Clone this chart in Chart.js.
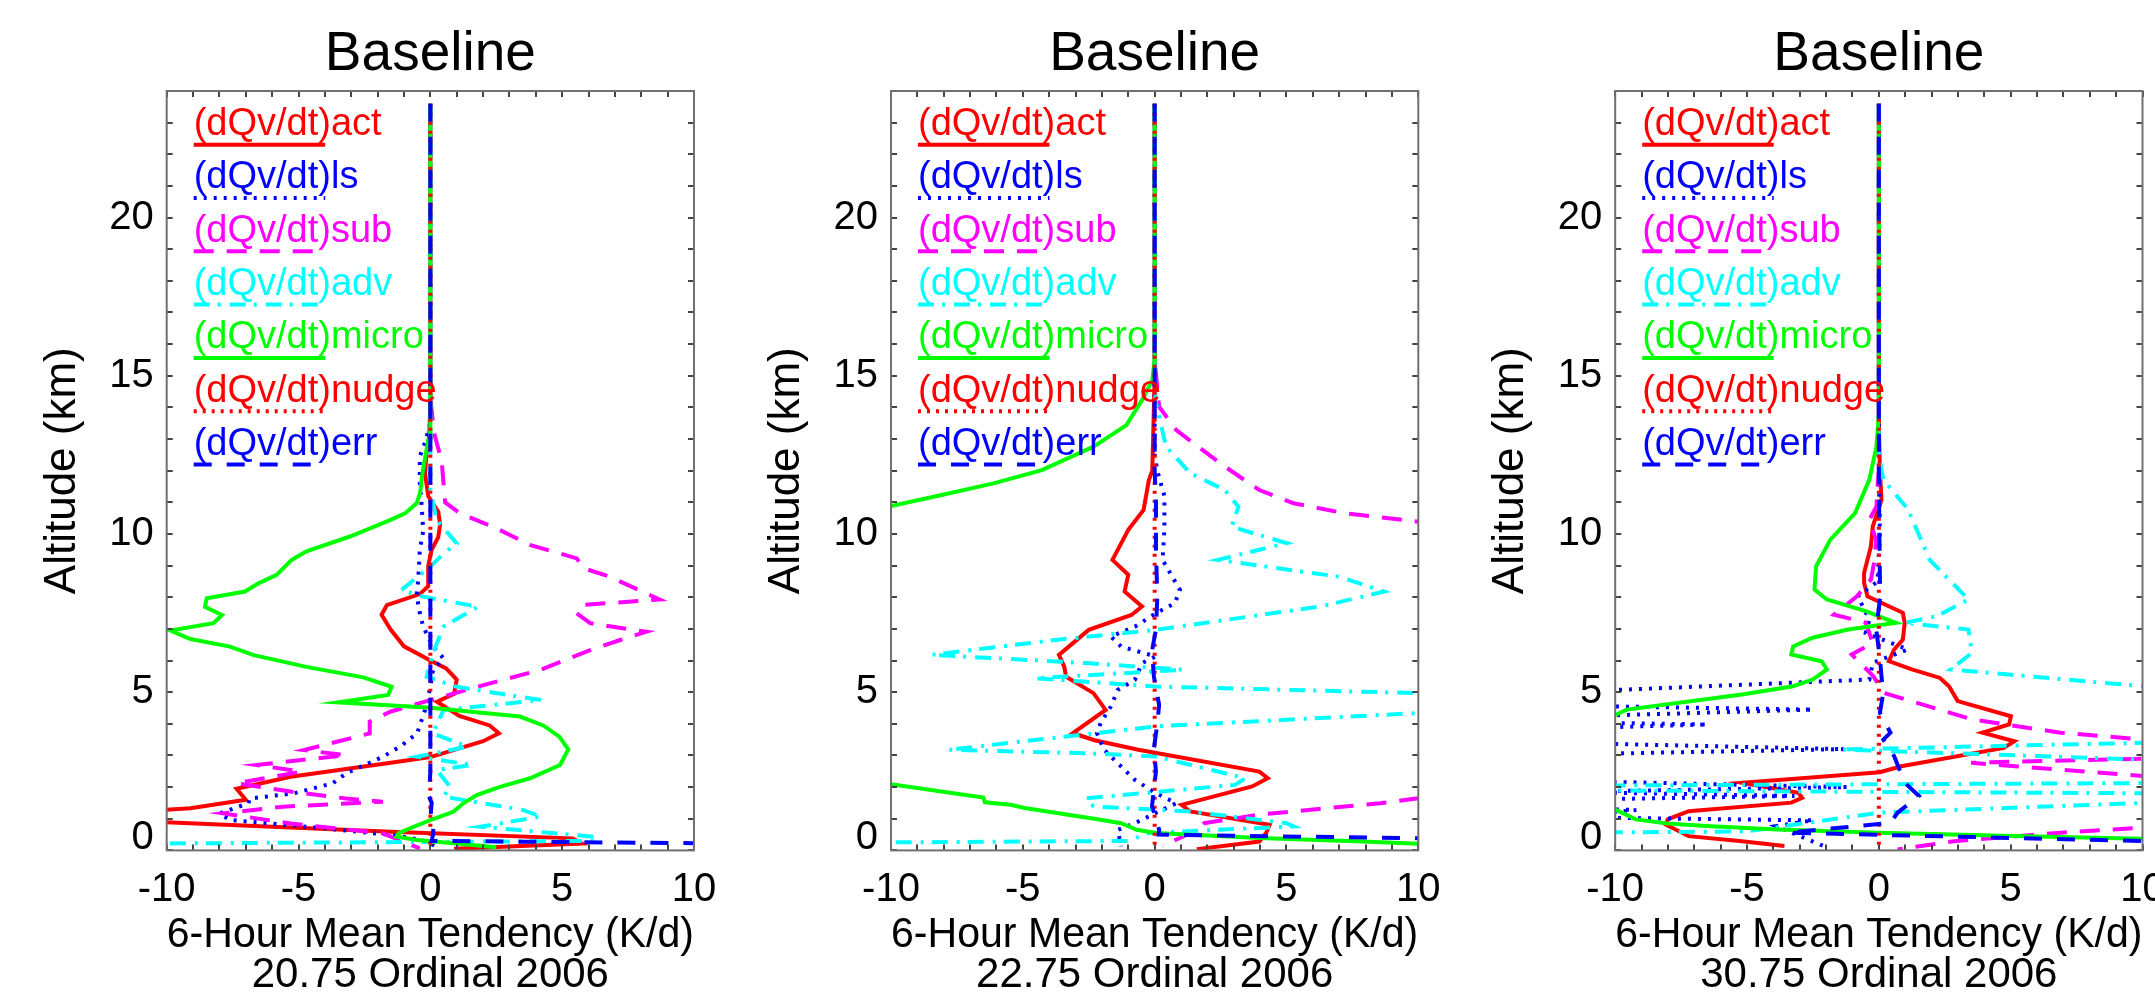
<!DOCTYPE html>
<html><head><meta charset="utf-8">
<script src="https://cdn.jsdelivr.net/npm/chart.js@4.4.1/dist/chart.umd.min.js"></script>
<style>
html,body{margin:0;padding:0;background:#fff;overflow:hidden;width:2155px;height:993px}
canvas{position:absolute;left:0;top:0}
</style></head><body>
<canvas id="c1" width="2155" height="993"></canvas>
<canvas id="c2" width="2155" height="993"></canvas>
<canvas id="c3" width="2155" height="993"></canvas>
<script>
// ---------------- DATA: [altitude km, tendency K/d] ----------------
const X_TICKS = [-10, -5, 0, 5, 10];
const Y_TICKS = [0, 5, 10, 15, 20];
const DATES = ['20.75 Ordinal 2006', '22.75 Ordinal 2006', '30.75 Ordinal 2006'];

const P1_ACT = [[23.6,0],[14,0],[13,-0.05],[12.5,-0.15],[11.9,-0.2],[11.2,-0.08],[10.7,0.3],[10.3,0.37],[9.9,0.3],[9.5,0.05],[9.0,-0.08],[8.35,-0.08],[8.1,-0.4],[7.75,-1.65],[7.45,-1.85],[6.97,-1.5],[6.45,-1.0],[6.0,0],[5.75,0.6],[5.4,1.0],[4.95,0.9],[4.7,0.25],[4.25,1.1],[3.95,2.25],[3.7,2.6],[3.45,2.0],[2.95,0],[2.77,-1.5],[2.33,-5.3],[1.95,-7.35],[1.6,-7.0],[1.33,-9.1],[1.1,-14],[0.96,-12],[0.59,-1.5],[0.38,5.4],[0.22,5.75],[0.05,0.9]];
const P1_LS = [[23.6,0],[13.5,0],[12.9,-0.2],[12.45,-0.4],[11.6,-0.4],[10.9,-0.33],[10.1,-0.27],[9.5,-0.4],[8.55,-0.46],[8.07,-0.52],[7.5,-0.4],[7.07,-0.27],[6.44,0.1],[6.07,0.5],[5.7,0.1],[5.17,0],[4.44,-0.2],[3.7,-0.5],[3.28,-1.15],[2.96,-1.8],[2.43,-3.2],[2.12,-3.7],[1.8,-5.2],[1.64,-6.85],[1.49,-6.9],[1.17,-8.0],[0.96,-7.6],[0.75,-4.7],[0.49,-1.5],[0.33,-0.3],[0.1,0.3]];
const P1_SUB = [[23.6,0],[14.3,0],[13.2,0.14],[12.3,0.43],[11.0,0.56],[10.65,1.13],[10.18,2.5],[9.65,3.8],[9.23,5.55],[8.92,5.8],[8.65,6.8],[7.93,8.7],[7.76,5.8],[7.49,5.55],[7.18,6.06],[6.91,8.2],[6.65,7.2],[6.33,6.06],[5.7,4.16],[5.28,2.26],[4.75,0],[4.39,-1.5],[4.07,-2.3],[3.7,-2.3],[3.38,-3.8],[3.17,-4.8],[3.01,-3.2],[2.7,-6.6],[2.49,-4.9],[2.12,-7.35],[1.86,-5.3],[1.64,-3.2],[1.54,-1.8],[1.38,-5.6],[1.17,-7.85],[0.85,-5.3],[0.54,-1.8],[0.06,-0.4]];
const P1_ADV = [[23.6,0],[11.4,0],[10.44,0.24],[9.7,1.0],[9.38,0.5],[8.97,0],[8.23,-1.1],[8.02,-0.27],[7.7,1.8],[7.07,0.5],[6.23,0.1],[5.49,-0.14],[5.17,1.0],[4.75,4.2],[4.44,0.5],[3.7,0.1],[3.28,1.4],[2.96,-0.5],[2.7,1.6],[2.54,0.24],[2.01,0.75],[1.7,0.5],[1.28,3.5],[1.07,4.2],[0.75,1.9],[0.43,6.2],[0.3,6.3],[0.12,-30]];
const P1_MICRO = [[23.6,0],[13.0,0],[12.97,-0.08],[11.92,-0.3],[11.29,-0.39],[10.97,-0.52],[10.65,-0.96],[10.44,-1.53],[9.92,-3.05],[9.45,-4.7],[9.18,-5.26],[8.71,-5.83],[8.44,-6.52],[8.18,-7.03],[7.97,-8.48],[7.7,-8.55],[7.44,-7.9],[7.18,-8.23],[6.95,-9.86],[6.68,-9.1],[6.44,-7.6],[6.17,-6.7],[5.8,-4.7],[5.47,-2.54],[5.17,-1.47],[4.91,-1.6],[4.68,-3.5],[4.51,0],[4.23,3.4],[3.94,4.3],[3.59,4.9],[3.19,5.23],[2.7,4.92],[2.28,3.78],[2.01,2.64],[1.75,1.76],[1.49,1.25],[1.22,0.87],[0.96,0],[0.7,-0.77],[0.54,-1.21],[0.43,-1.28],[0.33,-0.52],[0.22,1.0],[0.1,2.5]];
const P1_NUDGE = [[23.6,0],[0.05,0]];
const P1_ERR = [[23.6,0],[2.5,0],[1.7,-0.05],[1.5,0.05],[1.2,0.02],[0.8,0.12],[0.5,0.1],[0.3,0.05],[0.12,25]];

const P2_ACT = [[23.6,0],[14.9,0],[12.0,-0.09],[11.7,-0.22],[10.76,-0.42],[10.13,-1.0],[9.18,-1.6],[8.71,-1.0],[8.18,-1.14],[7.71,-0.48],[7.44,-0.88],[6.97,-2.5],[6.18,-3.63],[5.81,-3.43],[5.49,-3.36],[4.97,-2.32],[4.44,-1.86],[3.71,-3.1],[3.49,-2.32],[3.18,-0.62],[2.49,3.97],[2.28,4.29],[2.02,3.7],[1.44,1.02],[1.23,1.35],[0.81,4.36],[0.55,4.23],[0.28,3.97],[0.04,1.6]];
const P2_LS = [[23.6,0],[12.5,0],[12.0,0.1],[11.2,0.37],[10.13,0.37],[9.18,0.3],[8.23,0.96],[7.81,0.76],[7.49,0.04],[7.07,-0.75],[6.76,-1.66],[6.44,-1.27],[6.13,0.04],[5.92,-0.48],[5.39,-0.75],[5.07,-1.4],[4.55,-1.66],[4.02,-2.05],[3.71,-2.19],[3.18,-1.92],[2.65,-1.27],[2.23,-0.75],[1.81,0.04],[1.49,0.82],[1.18,0.04],[0.86,-0.75],[0.65,-1.4],[0.13,-1.27]];
const P2_SUB = [[23.6,0],[15.5,0],[14.02,0.17],[13.28,0.82],[12.13,2.66],[11.39,3.97],[10.97,5.27],[10.65,7.24],[10.39,10],[10.0,14],[8,20],[5,20],[2.5,14],[1.65,10],[1.49,8.55],[1.34,6.58],[1.13,3.97],[0.86,1.87],[0.55,1.35],[0.13,0.3]];
const P2_ADV = [[23.6,0],[15,0],[14.2,0.04],[12.76,0.43],[11.92,1.35],[11.39,2.66],[10.86,3.18],[10.23,2.92],[9.71,5.0],[9.18,2.4],[8.65,7.0],[8.18,8.7],[7.71,6.3],[7.28,2.66],[6.97,0.04],[6.65,-3.76],[6.18,-8.47],[5.92,-2.58],[5.71,1.09],[5.44,-4.54],[5.18,0.04],[4.97,10],[4.65,25],[4.34,10],[3.92,0.04],[3.18,-7.81],[3.07,-2.58],[2.97,0.04],[2.28,3.44],[2.07,3.05],[1.65,-2.58],[1.39,-2.32],[1.23,1.35],[0.86,5.0],[0.76,5.27],[0.55,-0.22],[0.3,-1.0],[0.15,-30]];
const P2_MICRO = [[23.6,0],[15.5,0],[14.86,-0.09],[14.23,-0.48],[13.44,-1.07],[12.76,-2.32],[12.02,-4.28],[11.6,-6.11],[11.23,-8.08],[10.88,-10],[10.5,-13],[8,-25],[5,-25],[2.5,-14],[2.09,-10],[1.67,-6.5],[1.52,-6.44],[1.44,-5.46],[1.34,-4.93],[0.97,-2.05],[0.86,-1.27],[0.65,-0.68],[0.55,0.04],[0.39,3.97],[0.28,7.9],[0.21,10],[0.1,14]];
const P2_NUDGE = [[23.6,0],[0.05,0]];
const P2_ERR = [[23.6,0],[12,0],[11,0.05],[9.5,0.05],[8,0.1],[7,0.05],[6.3,-0.1],[5.5,-0.03],[5.18,0.04],[4.6,0.17],[4.0,0.1],[3.2,-0.03],[2.5,0.05],[1.4,-0.1],[0.65,0.17],[0.5,0.15],[0.2,25]];

const P3_ACT = [[23.6,0],[13.5,0],[12,0.04],[11.08,0.1],[10.24,-0.23],[9.61,-0.3],[8.77,-0.56],[8.45,-0.56],[8.03,-0.43],[7.51,0.91],[7.19,0.98],[6.66,0.91],[6.35,0.58],[5.98,0.38],[5.72,1.25],[5.45,2.32],[5.19,2.66],[4.72,2.99],[4.24,5.01],[3.98,4.94],[3.72,3.93],[3.45,5.14],[3.24,4.74],[2.66,0.85],[2.47,0.04],[2.14,-5.19],[1.82,-3.05],[1.66,-2.91],[1.51,-3.32],[1.24,-7.21],[0.98,-8.01],[0.82,-8.08],[0.45,-7.21],[0.29,-5.19],[0.14,-3.58]];
const P3_LS = [[23.6,0],[12,0],[10,0.04],[8.5,-0.05],[8.03,-0.8],[7.29,-0.36],[6.87,-0.5],[6.35,1.1],[5.93,-0.23],[5.4,-0.36],[5.0,-12],[4.6,-14],[4.45,-2.5],[4.2,-13],[4.05,-12],[3.98,-6.5],[3.85,-12],[3.6,-14],[3.4,-12],[3.2,-1.3],[3.0,-14],[2.75,-13],[2.5,-12],[2.2,-12],[2.0,-1.2],[1.85,-12],[1.72,-3.2],[1.6,-12],[1.35,-13],[1.28,-9.2],[1.05,-12],[0.95,-2.5],[0.77,-3.9],[0.14,-2.1]];
const P3_SUB = [[23.6,0],[12,0],[11.5,-0.05],[10.87,-0.09],[10.45,-0.36],[9.8,-0.1],[9.19,-0.16],[8.56,-0.3],[8.03,-0.83],[7.45,-1.7],[7.2,-0.5],[6.56,-0.23],[6.19,-1.03],[5.5,-0.2],[4.98,0.17],[4.14,3.53],[3.72,6.89],[3.51,9.97],[3.1,20],[2.77,3.5],[2.35,10],[2.0,25],[1.5,12],[1.2,12],[0.72,10],[0.56,6.89],[0.29,2.86],[0.03,0.71]];
const P3_ADV = [[23.6,0],[12.5,0],[11.72,0.17],[10.77,1.11],[9.19,1.92],[7.93,3.4],[7.4,2.19],[7.19,0.98],[6.98,3.4],[6.24,3.53],[5.72,2.72],[5.19,10],[4.6,30],[3.6,30],[3.4,10],[3.19,-1.44],[2.87,10],[2.6,30],[2.2,30],[1.98,-30],[1.72,30],[1.5,10],[1.19,0],[0.6,-5],[0.45,-30],[0.3,-30]];
const P3_MICRO = [[23.6,0],[13.8,0],[12.77,-0.09],[11.72,-0.36],[10.66,-0.9],[9.82,-1.84],[8.98,-2.38],[8.24,-2.44],[7.93,-1.97],[7.56,-0.5],[7.19,0.64],[7.11,-0.09],[6.98,-1.17],[6.72,-2.51],[6.45,-3.25],[6.19,-3.32],[5.98,-2.17],[5.72,-1.97],[5.4,-2.51],[5.19,-3.25],[4.93,-5.19],[4.45,-9.56],[4.24,-10.1],[3.5,-20],[2,-20],[1.29,-10],[0.98,-9.22],[0.85,-8.01],[0.77,-6.54],[0.66,-3.85],[0.56,0],[0.45,5.54],[0.37,9.97],[0.25,15]];
const P3_NUDGE = [[23.6,0],[0.03,0]];
const P3_ERR = [[23.6,0],[12,0],[10,0.02],[8,0.05],[7,-0.1],[6,0.05],[5.5,0.1],[4.98,0.17],[4.35,0.04],[3.72,0.44],[3.5,0.17],[2.98,0.58],[2.14,0.98],[1.72,1.52],[1.19,0.71],[0.87,0.44],[0.56,-3.45],[0.0,25]];

// ---------------- STYLE ----------------
const FONT = '"Liberation Sans", Arial, Helvetica, sans-serif';
const SERIES = [
  {label:'(dQv/dt)act',   color:'#ff0000', dash:[],      order:6},
  {label:'(dQv/dt)ls',    color:'#0000ff', dash:[3,7],   order:5},
  {label:'(dQv/dt)sub',   color:'#ff00ff', dash:[20,13], order:4},
  {label:'(dQv/dt)adv',   color:'#00ffff', dash:[16,8,3,9], order:3},
  {label:'(dQv/dt)micro', color:'#00ff00', dash:[],      order:2},
  {label:'(dQv/dt)nudge', color:'#ff0000', dash:[3,6],   order:1},
  {label:'(dQv/dt)err',   color:'#0000ff', dash:[18,15], order:0}
];
const PANELS = [
  {canvas:'c1', left:166.7, series:[P1_ACT,P1_LS,P1_SUB,P1_ADV,P1_MICRO,P1_NUDGE,P1_ERR]},
  {canvas:'c2', left:891.0, series:[P2_ACT,P2_LS,P2_SUB,P2_ADV,P2_MICRO,P2_NUDGE,P2_ERR]},
  {canvas:'c3', left:1615.2, series:[P3_ACT,P3_LS,P3_SUB,P3_ADV,P3_MICRO,P3_NUDGE,P3_ERR]}
];
const W = 2155, PLOT_W = 527.3, YAXIS_W = 166.7, XAXIS_H = 142.6;

const framePlugin = {
  id: 'idlFrame',
  afterDatasetsDraw(chart) {
    const {ctx, chartArea: a, scales: {x, y}} = chart;
    const TL = 6;
    ctx.save();
    ctx.strokeStyle = '#444'; ctx.lineWidth = 2;
    ctx.beginPath();
    for (let v = x.min; v <= x.max; v += 1) {
      const px = Math.round(x.getPixelForValue(v));
      ctx.moveTo(px, a.bottom); ctx.lineTo(px, a.bottom - TL);
      ctx.moveTo(px, a.top); ctx.lineTo(px, a.top + TL);
    }
    for (let v = y.min; v <= y.max; v += 1) {
      const py = Math.round(y.getPixelForValue(v));
      ctx.moveTo(a.left, py); ctx.lineTo(a.left + TL, py);
      ctx.moveTo(a.right, py); ctx.lineTo(a.right - TL, py);
    }
    ctx.stroke();
    ctx.strokeStyle = '#707070'; ctx.lineWidth = 2;
    ctx.strokeRect(a.left, a.top, a.right - a.left, a.bottom - a.top);
    ctx.restore();
  }
};

const legendPlugin = {
  id: 'idlLegend',
  afterDatasetsDraw(chart) {
    const {ctx, chartArea: a} = chart;
    ctx.save();
    ctx.font = '38px ' + FONT;
    ctx.textAlign = 'left';
    ctx.textBaseline = 'alphabetic';
    SERIES.forEach((s, i) => {
      const x0 = a.left + 27;
      ctx.fillStyle = s.color;
      ctx.fillText(s.label, x0, a.top + 44 + 53.3 * i);
      const yl = a.top + 53.7 + 53.3 * i;
      ctx.strokeStyle = s.color; ctx.lineWidth = 4; ctx.lineCap = 'butt';
      ctx.setLineDash(s.dash);
      ctx.beginPath(); ctx.moveTo(x0, yl); ctx.lineTo(x0 + 131.5, yl); ctx.stroke();
    });
    ctx.restore();
  }
};

PANELS.forEach((p, pi) => {
  const datasets = p.series.map((arr, si) => ({
    label: SERIES[si].label,
    data: arr.map(d => ({x: d[1], y: d[0]})),
    showLine: true,
    borderColor: SERIES[si].color,
    backgroundColor: SERIES[si].color,
    borderWidth: 4,
    borderDash: SERIES[si].dash,
    borderCapStyle: 'butt',
    borderJoinStyle: 'miter',
    pointRadius: 0,
    tension: 0,
    fill: false,
    clip: 0,
    order: SERIES[si].order
  }));
  new Chart(document.getElementById(p.canvas), {
    type: 'scatter',
    data: {datasets},
    options: {
      responsive: false, animation: false, devicePixelRatio: 1,
      events: [],
      layout: {padding: {left: p.left - YAXIS_W, right: W - (p.left + PLOT_W), top: 0, bottom: 0}},
      plugins: {
        legend: {display: false},
        tooltip: {enabled: false},
        title: {display: true, text: 'Baseline', fullSize: false, color: '#000',
                font: {family: FONT, size: 55, weight: 'normal', lineHeight: 1},
                padding: {top: 27.5, bottom: 8.5}}
      },
      scales: {
        x: {
          type: 'linear', position: 'bottom', min: -10, max: 10,
          afterBuildTicks: s => { s.ticks = X_TICKS.map(v => ({value: v})); },
          ticks: {color: '#000', font: {family: FONT, size: 40, lineHeight: 1.2}, padding: 15.6, maxRotation: 0, autoSkip: false},
          grid: {display: false, drawTicks: false},
          border: {display: false},
          title: {display: true, text: ['6-Hour Mean Tendency (K/d)', DATES[pi]], color: '#000',
                  font: {family: FONT, size: 42, lineHeight: 0.94}, padding: {top: 0, bottom: -2}},
          afterFit: s => { s.height = XAXIS_H; s.paddingLeft = 0; s.paddingRight = 0; }
        },
        y: {
          type: 'linear', position: 'left', min: 0, max: 24,
          afterBuildTicks: s => { s.ticks = Y_TICKS.map(v => ({value: v})); },
          ticks: {color: '#000', font: {family: FONT, size: 40, lineHeight: 0.6}, padding: 13,
                  callback: v => v === 0 ? ['0', ''] : String(v)},
          grid: {display: false, drawTicks: false},
          border: {display: false},
          title: {display: true, text: 'Altitude (km)', color: '#000',
                  font: {family: FONT, size: 44, lineHeight: 1.2}, padding: {top: 36, bottom: 0}},
          afterFit: s => { s.width = YAXIS_W; s.paddingTop = 0; s.paddingBottom = 0; }
        }
      }
    },
    plugins: [framePlugin, legendPlugin]
  });
});
</script>
</body></html>
